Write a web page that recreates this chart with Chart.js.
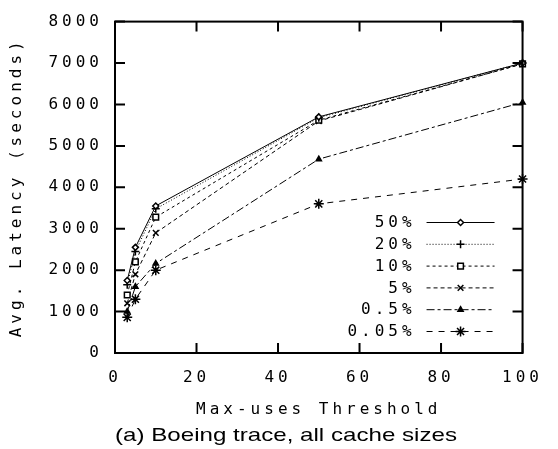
<!DOCTYPE html>
<html>
<head>
<meta charset="utf-8">
<script src="https://cdn.jsdelivr.net/npm/chart.js@4.4.1/dist/chart.umd.min.js"></script>
<style>
  html, body { margin: 0; padding: 0; background: #fff; }
  #wrap { width: 558px; height: 449px; }
</style>
</head>
<body>
<div id="wrap"><canvas id="chartContainer"></canvas></div>
<script>
"use strict";

// data
const maxUses = [3, 5, 10, 50, 100];
const labels = ["50%", "20%", "10%", "5%", "0.5%", "0.05%"];
const lat50 = [1750, 2550, 3550, 5700, 7000];
const lat20 = [1650, 2450, 3480, 5680, 7000];
const lat10 = [1400, 2200, 3280, 5620, 6980];
const lat5 = [1200, 1900, 2900, 5600, 6980];
const lat05 = [1000, 1600, 2160, 4680, 6050];
const lat005 = [860, 1300, 2000, 3600, 4200];
const xTicks = [0, 20, 40, 60, 80, 100];
const yTicks = [0, 1000, 2000, 3000, 4000, 5000, 6000, 7000, 8000];

const series = [lat50, lat20, lat10, lat5, lat05, lat005];
// line style for each cache size (gnuplot-like)
const dashes = [[], [1, 2], [3, 3], [4, 3], [8, 3, 3, 3], [6, 6]];
const shapes = ["rectRot", "cross", "rect", "crossRot", "triangle", "star"];
const radii = [3, 4, 4, 4, 3, 5];

const MONO = "'DejaVu Sans Mono', monospace";
const SPACING = "4px";

function points(values) {
  return maxUses.map((x, i) => ({ x: x, y: values[i] }));
}

const datasets = series.map((values, i) => ({
  label: labels[i],
  data: points(values),
  borderColor: "#000",
  backgroundColor: i === 4 ? "#000" : "#fff",
  borderWidth: 1,
  borderDash: dashes[i],
  pointStyle: shapes[i],
  pointRadius: radii[i],
  pointBorderWidth: 1.5,
  pointBorderColor: "#000",
  pointBackgroundColor: i === 4 ? "#000" : "#fff",
  tension: 0,
  clip: false
}));

// wider, gnuplot-like spacing of the monospace text
const spacingPlugin = {
  id: "spacing",
  beforeUpdate(chart) { chart.ctx.letterSpacing = SPACING; },
  beforeDraw(chart) { chart.ctx.letterSpacing = SPACING; }
};

// box around the plot with inward ticks on all four sides
const framePlugin = {
  id: "frame",
  afterDatasetsDraw(chart) {
    const ctx = chart.ctx;
    const a = chart.chartArea;
    const xs = chart.scales.x, ys = chart.scales.y;
    const len = 10;
    ctx.save();
    ctx.strokeStyle = "#000";
    ctx.lineWidth = 2;
    ctx.setLineDash([]);
    ctx.strokeRect(a.left, a.top, a.right - a.left, a.bottom - a.top);
    ctx.beginPath();
    xTicks.forEach(v => {
      const px = xs.getPixelForValue(v);
      ctx.moveTo(px, a.bottom); ctx.lineTo(px, a.bottom - len);
      ctx.moveTo(px, a.top); ctx.lineTo(px, a.top + len);
    });
    yTicks.forEach(v => {
      const py = ys.getPixelForValue(v);
      ctx.moveTo(a.left, py); ctx.lineTo(a.left + len, py);
      ctx.moveTo(a.right, py); ctx.lineTo(a.right - len, py);
    });
    ctx.stroke();
    ctx.restore();
  }
};

// key inside the plot, text on the left of the sample
const keyPlugin = {
  id: "key",
  afterDraw(chart) {
    const ctx = chart.ctx;
    const a = chart.chartArea;
    const step = 21.8;
    const first = a.bottom - 22 - step * (labels.length - 1);
    ctx.save();
    ctx.letterSpacing = SPACING;
    ctx.font = "16px " + MONO;
    ctx.textAlign = "right";
    ctx.textBaseline = "middle";
    ctx.fillStyle = "#000";
    chart.data.datasets.forEach((ds, i) => {
      const y = first + i * step;
      ctx.fillText(ds.label, a.right - 107, y + 1);
      ctx.save();
      ctx.strokeStyle = "#000";
      ctx.lineWidth = 1;
      ctx.setLineDash(ds.borderDash);
      ctx.beginPath();
      ctx.moveTo(a.right - 96, y + 0.5);
      ctx.lineTo(a.right - 28, y + 0.5);
      ctx.stroke();
      ctx.setLineDash([]);
      ctx.lineWidth = ds.pointBorderWidth;
      ctx.strokeStyle = "#000";
      ctx.fillStyle = ds.pointBackgroundColor;
      Chart.helpers.drawPoint(ctx, {
        pointStyle: ds.pointStyle, radius: ds.pointRadius, rotation: 0, borderWidth: ds.pointBorderWidth
      }, a.right - 62, y + 0.5);
      ctx.restore();
    });
    ctx.restore();

    // caption under the chart
    ctx.save();
    ctx.letterSpacing = "0px";
    ctx.font = "19px 'Liberation Sans', Arial, sans-serif";
    ctx.fillStyle = "#000";
    ctx.textAlign = "center";
    ctx.textBaseline = "middle";
    ctx.translate(286, 436);
    ctx.scale(1.27, 1);
    ctx.fillText("(a) Boeing trace, all cache sizes", 0, 0);
    ctx.restore();
  }
};

const tickFont = { family: MONO, size: 16 };

new Chart(document.getElementById("chartContainer"), {
  type: "line",
  data: { datasets: datasets },
  plugins: [spacingPlugin, framePlugin, keyPlugin],
  options: {
    responsive: true,
    maintainAspectRatio: false,
    animation: false,
    layout: { padding: { top: 15, right: 22, bottom: 0, left: 0 } },
    plugins: {
      legend: { display: false },
      tooltip: { enabled: false }
    },
    scales: {
      x: {
        type: "linear",
        min: 0,
        max: 100,
        afterBuildTicks(scale) { scale.ticks = xTicks.map(v => ({ value: v })); },
        afterFit(scale) { scale.height = 96; },
        grid: { display: false, drawTicks: false },
        border: { display: false },
        ticks: { color: "#000", font: tickFont, padding: 15, maxRotation: 0, callback: v => String(v) },
        title: {
          display: true,
          text: "Max-uses Threshold",
          color: "#000",
          font: tickFont,
          padding: { top: 0, bottom: 30 }
        }
      },
      y: {
        min: 0,
        max: 8000,
        afterBuildTicks(scale) { scale.ticks = yTicks.map(v => ({ value: v })); },
        afterFit(scale) { scale.width = 115; },
        grid: { display: false, drawTicks: false },
        border: { display: false },
        ticks: { color: "#000", font: tickFont, padding: 12, callback: v => String(v) },
        title: {
          display: true,
          text: "Avg. Latency (seconds)",
          color: "#000",
          font: tickFont,
          padding: { top: 7, bottom: 0 }
        }
      }
    }
  }
});
</script>
</body>
</html>
